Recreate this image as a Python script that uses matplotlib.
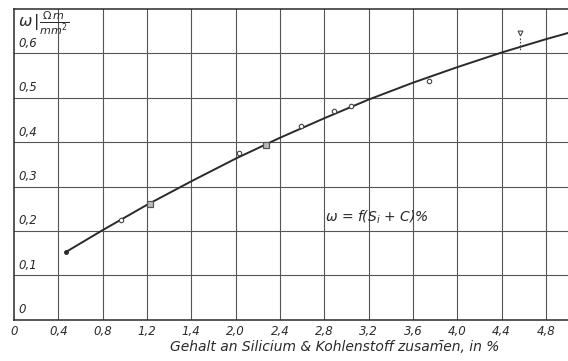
import matplotlib.pyplot as plt

# curve
curve_x = [0.47, 0.8, 1.2, 1.6, 2.0, 2.4, 2.8, 3.2, 3.6, 4.0, 4.4, 4.8, 5.0]
curve_y = [0.153, 0.202, 0.259, 0.312, 0.363, 0.410, 0.454, 0.496, 0.534, 0.569, 0.602, 0.632, 0.646]

# measured points
circ_x = [0.97, 2.03, 2.59, 2.89, 3.04, 3.75]
circ_y = [0.225, 0.375, 0.436, 0.470, 0.481, 0.539]
sq_x = [1.23, 2.27]
sq_y = [0.262, 0.393]
tri_x = [4.57]
tri_y = [0.646]

xticks = [0, 0.4, 0.8, 1.2, 1.6, 2.0, 2.4, 2.8, 3.2, 3.6, 4.0, 4.4, 4.8]
xlabels = ['0', '0,4', '0,8', '1,2', '1,4', '2,0', '2,4', '2,8', '3,2', '3,6', '4,0', '4,4', '4,8']
yticks = [0, 0.1, 0.2, 0.3, 0.4, 0.5, 0.6]
ylabels = ['0', '0,1', '0,2', '0,3', '0,4', '0,5', '0,6']

ink = '#2a2a2a'
fig = plt.figure(figsize=(5.68, 3.61), dpi=100)
ax = fig.add_axes([0.0246, 0.114, 0.9754, 0.861])
ax.set_xlim(0, 5.0)
ax.set_ylim(0, 0.7)

# grid
for x in xticks[1:]:
    ax.axvline(x, color='#555555', lw=0.8, zorder=1)
for y in yticks[1:]:
    ax.axhline(y, color='#555555', lw=0.8, zorder=1)

for s in ['left', 'bottom', 'top']:
    ax.spines[s].set_color(ink)
    ax.spines[s].set_linewidth(1.1)
ax.spines['right'].set_visible(False)

ax.plot(curve_x, curve_y, color=ink, lw=1.4, zorder=3)
ax.plot(curve_x[0], curve_y[0], 'o', ms=2.5, color=ink, zorder=4)
ax.plot(circ_x, circ_y, 'o', ms=3.2, mfc='white', mec='#444444', mew=0.8, zorder=4)
ax.plot(sq_x, sq_y, 's', ms=4.5, mfc='#bbbbbb', mec='#555555', mew=0.9, zorder=4)
ax.plot(tri_x, tri_y, 'v', ms=3.5, mfc='white', mec='#444444', mew=0.8, zorder=4)
ax.plot([tri_x[0], tri_x[0]], [tri_y[0] - 0.012, 0.606], ls=(0, (1.5, 1.5)), color='#444444', lw=0.8, zorder=3)

ax.set_xticks(xticks)
ax.set_xticklabels(xlabels, fontsize=8.5, style='italic', color=ink)
ax.tick_params(axis='x', length=0, pad=4)
ax.set_yticks([])

for y, lab in zip(yticks, ylabels):
    ax.text(0.04, y + 0.008, lab, fontsize=8.5, style='italic', color=ink, ha='left', va='bottom')

ax.text(0.04, 0.668, r'$\omega\,|\frac{\Omega\,m}{mm^2}$', fontsize=11.5, color=ink, ha='left', va='center')
ax.text(2.81, 0.232, r'$\omega$ = f(S$_i$ + C)%', fontsize=10, style='italic', color=ink, ha='left', va='center')

fig.text(0.59, 0.039, 'Gehalt an Silicium & Kohlenstoff zusam\u0304en, in %', fontsize=10,
         style='italic', color=ink, ha='center', va='center')

fig.savefig('out.png', dpi=100, facecolor='white')
